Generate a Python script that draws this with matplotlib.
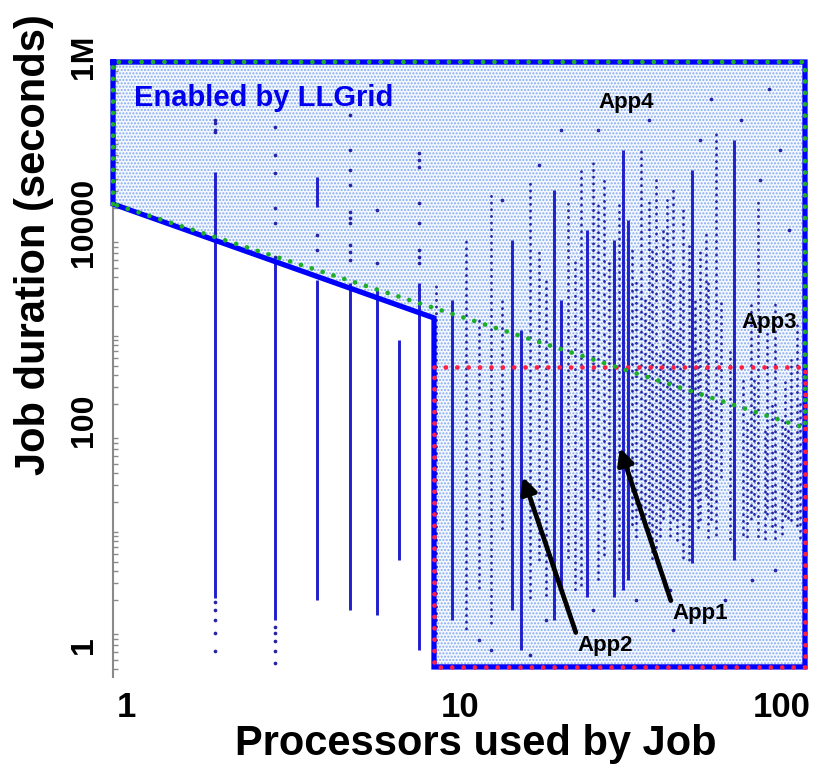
import matplotlib
matplotlib.use("Agg")
import matplotlib.pyplot as plt
import matplotlib.ticker as mticker
from matplotlib import font_manager as fm
from matplotlib.patches import Polygon
from matplotlib.transforms import ScaledTranslation

# ---------------- data (processors used, job duration in seconds) ----------------
# dense runs of jobs (a continuous column of points)
dense_p  = [2, 3, 4, 4, 5, 6, 7, 8,
            10, 15, 16, 20, 21, 25, 30, 32, 33, 51, 68]
dense_lo = [2.1, 1.26, 2.0, 2.07e4, 1.6, 1.42, 5.2, 0.63,
            1.26, 1.6, 0.63, 1.26, 2.56, 2.17, 2.17, 2.56, 3.2, 4.8, 5.2]
dense_hi = [4.7e4, 5970, 3730, 4.2e4, 3470, 2950, 910, 3470,
            2330, 9550, 1150, 3.1e4, 2330, 1.21e4, 9550, 7.9e4, 1.53e4, 4.9e4, 1.0e5]

# sparser runs of jobs (a dotted column of points)
sparse_p  = [9, 11, 12, 13, 14, 17, 18, 19, 22, 23, 24, 26, 27, 28, 29, 31,
             34, 35, 36, 37, 38, 39, 40, 41, 42, 43, 44, 45, 46, 47, 48, 50,
             52, 53, 54, 56, 57, 58, 60, 62, 66,
             72, 74, 76, 78, 80, 84, 85, 88, 90, 94, 96, 98, 100, 104, 106]
sparse_lo = [0.79, 0.93, 2.56, 1.18, 9.8, 2.02, 5.2, 2.02, 5.2, 2.56, 2.56, 21, 3.2, 5.2, 21, 5.2,
             10.5, 8.3, 13.3, 13.3, 8.3, 5.2, 5.2, 8.3, 13.3, 21, 8.3, 13.3, 8.3, 13.3, 5.2, 5.2,
             21, 10.5, 13.3, 21, 8.3, 13.3, 8.3, 34, 8.3,
             8.3, 8.3, 13.3, 13.3, 8.3, 8.3, 13.3, 10.5, 8.3, 8.3, 13.3, 13.3, 13.3, 10.5, 8.3]
sparse_hi = [3310, 9550, 1460, 3.1e4, 2330, 3.9e4, 7550, 3730, 2.44e4, 5970, 4.9e4, 6.25e4, 2.44e4, 3.9e4, 5970, 2.44e4,
             7550, 3730, 7.9e4, 2330, 2.44e4, 7550, 3.9e4, 720, 1.21e4, 2.44e4, 5970, 3.1e4, 1150, 3730, 1.93e4, 9550,
             2330, 720, 7550, 1.21e4, 3730, 222, 1.26e5, 2330, 720,
             356, 139, 2330, 356, 2.44e4, 110, 1150, 222, 2330, 139, 356, 110, 570, 1460, 222]

# isolated jobs
point_p = [2, 2, 2, 2, 2, 2, 2, 2, 2,
           3, 3, 3, 3, 3, 3, 3, 3, 3, 3, 3,
           4, 4,
           5, 5, 5, 5, 5, 5, 5, 5, 5, 5,
           6, 6,
           8, 8, 8, 8, 8, 8, 8, 8,
           14, 18, 21, 27, 38, 54, 58, 71, 81, 93, 99, 13, 17, 45, 86,
           12, 19, 26, 35, 44, 64, 77, 90]
point_v = [1.6e5, 1.49e5, 1.26e5, 1.21e5, 1.93, 1.6, 1.26, 0.93, 0.61,
           1.36e5, 7.0e4, 4.6e4, 2.0e4, 1.42e4, 6400, 1.07, 0.93, 0.77, 0.61, 0.46,
           1.07e4, 7550,
           1.8e5, 7.9e4, 4.9e4, 3.5e4, 1.84e4, 1.6e4, 1.42e4, 8490, 7200, 5970,
           1.93e4, 5560,
           7.4e4, 6.25e4, 5.3e4, 2.3e4, 1.42e4, 7550, 6400, 5560,
           2.44e4, 5.5e4, 1.26e5, 1.26e5, 1.6e5, 1.0e5, 2.6e5, 1.6e5, 3.9e4, 7.9e4, 1.2e4,
           0.63, 0.56, 1.0, 3.3e5,
           0.79, 1.26, 1.6, 2.02, 2.56, 2.02, 3.2, 4.1]

# region outlines
box_top = 6.25e5
box_bottom = 0.42
x_max = 110
knee_p = 8.85
diag_start_v = 2.22e4
knee_v = 1527
green_end_v = 115
red_top_v = 483

y_ticks = [1, 100, 1e4, 1e6]
y_ticklabels = ["1", "100", "10000", "1M"]
x_ticks = [1, 10, 100]
x_ticklabels = ["1", "10", "100"]

# ---------------- fonts ----------------
names = {f.name for f in fm.fontManager.ttflist}
bold_font = "Liberation Sans" if "Liberation Sans" in names else "DejaVu Sans"
plt.rcParams["font.family"] = [bold_font, "DejaVu Sans"]
plt.rcParams["hatch.linewidth"] = 1.0

# ---------------- figure ----------------
W, H = 813, 771
fig = plt.figure(figsize=(W / 100, H / 100), dpi=100)
ax = fig.add_axes([113 / W, 91 / H, 692 / W, 642 / H])
ax.set_xscale("log")
ax.set_yscale("log")
ax.set_xlim(1, x_max)
ax.set_ylim(10 ** -0.5102, 10 ** 6.0408)

# slide title, mostly above the visible area
fig.text(0.5, 1 + 11 / H, "LLGrid Usage", ha="center", va="baseline",
         fontsize=38, fontweight="bold", color="black")

# hatched "Enabled by LLGrid" region
region = [(1, box_top), (x_max, box_top), (x_max, box_bottom), (knee_p, box_bottom),
          (knee_p, knee_v), (1, diag_start_v)]
ax.add_patch(Polygon(region, closed=True, facecolor="#f4f8ff", edgecolor="#86aaf0",
                     linewidth=0, hatch=".....", zorder=0))

# data
ax.vlines(dense_p, dense_lo, dense_hi, colors="#1f1fcc", linewidth=2.1, zorder=2)
# vary the dot phase from column to column so the dots do not line up in rows
dot_styles = [((i * 0.77) % 2.4, (0.1, 2.3)) for i in range(len(sparse_p))]
sl = ax.vlines(sparse_p, sparse_lo, sparse_hi, colors="#2424a4", linewidth=2.0,
               linestyles=dot_styles, zorder=2)
sl.set_capstyle("round")
ax.scatter(point_p, point_v, s=7, color="#2424a4", linewidths=0, zorder=2)

# blue outline
bx = [1, x_max, x_max, knee_p, knee_p, 1, 1]
by = [box_top, box_top, box_bottom, box_bottom, knee_v, diag_start_v, box_top]
ax.plot(bx, by, color="#0000ff", linewidth=3.8, solid_joinstyle="miter", zorder=4, clip_on=False)

# red dotted rectangle
rx = [knee_p, x_max, x_max, knee_p, knee_p]
ry = [red_top_v, red_top_v, box_bottom, box_bottom, red_top_v]
ax.plot(rx, ry, color="#ff1f45", linewidth=3.4, linestyle=(0, (0.01, 2.4)),
        dash_capstyle="round", zorder=5, clip_on=False)

# green dotted outline
gx = [1, 1, x_max, x_max, 1]
gy = [diag_start_v, box_top, box_top, green_end_v, diag_start_v]
ax.plot(gx, gy, color="#1fae2a", linewidth=3.4, linestyle=(0, (0.01, 2.4)),
        dash_capstyle="round", zorder=6, clip_on=False)

# annotations
ax.text(1.153, 2.68e5, "Enabled by LLGrid", color="#0000ee", fontsize=21,
        fontweight="bold", ha="left", va="center", zorder=7)
ax.text(32.6, 2.39e5, "App4", fontsize=16, fontweight="bold", ha="center", va="center", zorder=7)
ax.text(86.1, 1358, "App3", fontsize=16, fontweight="bold", ha="center", va="center", zorder=7)
arrow = dict(arrowstyle="-|>", color="black", lw=3.4, mutation_scale=24, shrinkA=0, shrinkB=0)
ax.annotate("App2", xy=(16.2, 36.4), xytext=(23.4, 0.69), fontsize=16, fontweight="bold",
            ha="left", va="center", arrowprops=dict(arrow, relpos=(0.0, 0.95)), zorder=7)
ax.annotate("App1", xy=(31.3, 72), xytext=(44.6, 1.46), fontsize=16, fontweight="bold",
            ha="left", va="center", arrowprops=dict(arrow, relpos=(0.0, 0.95)), zorder=7)

# axes styling
for s in ["top", "right", "bottom"]:
    ax.spines[s].set_visible(False)
ax.spines["left"].set_color("#8a8a8a")
ax.spines["left"].set_linewidth(1.5)
ax.spines["left"].set_bounds(0.33, box_top)

ax.set_yticks(y_ticks)
ax.set_yticklabels(y_ticklabels)
minor_vals = [m * 10.0 ** k for k in range(-1, 6) for m in range(1, 10)
              if 0.33 < m * 10.0 ** k < box_top]
ax.yaxis.set_minor_locator(mticker.FixedLocator(minor_vals))
ax.yaxis.set_minor_formatter(mticker.NullFormatter())
ax.tick_params(axis="y", which="major", direction="in", length=0, pad=10)
ax.tick_params(axis="y", which="minor", direction="in", length=3.5, width=1.0, color="#8a8a8a")
# nudge the slide's overlaid labels to where they sit on the slide (pixels, +down)
y_nudge = [15, -14, -16, 15]
for lab, dy in zip(ax.get_yticklabels(), y_nudge):
    lab.set_rotation(90)
    lab.set_va("center")
    lab.set_ha("right")
    lab.set_fontsize(23)
    lab.set_fontweight("bold")
    lab.set_transform(lab.get_transform() + ScaledTranslation(0, -dy / 100, fig.dpi_scale_trans))

ax.set_xticks(x_ticks)
ax.set_xticklabels(x_ticklabels)
ax.xaxis.set_minor_locator(mticker.NullLocator())
ax.tick_params(axis="x", which="major", length=0, pad=8)
x_nudge = [13, 8, -9]
for lab, dx in zip(ax.get_xticklabels(), x_nudge):
    lab.set_fontsize(25)
    lab.set_fontweight("bold")
    lab.set_transform(lab.get_transform() + ScaledTranslation(dx / 100, 0, fig.dpi_scale_trans))

ax.set_xlabel("Processors used by Job", fontsize=30, fontweight="bold")
ax.xaxis.set_label_coords((476 - 113) / 692, (680 - 724) / 642)
ax.xaxis.label.set_va("top")

ax.set_ylabel("Job duration (seconds)", fontsize=30, fontweight="bold")
ax.yaxis.label.set_rotation_mode("default")
ax.yaxis.label.set_va("center")
ax.yaxis.label.set_ha("center")
ax.yaxis.set_label_coords((34 - 113) / 692, (680 - 245) / 642)

fig.savefig("out.png", dpi=100)
